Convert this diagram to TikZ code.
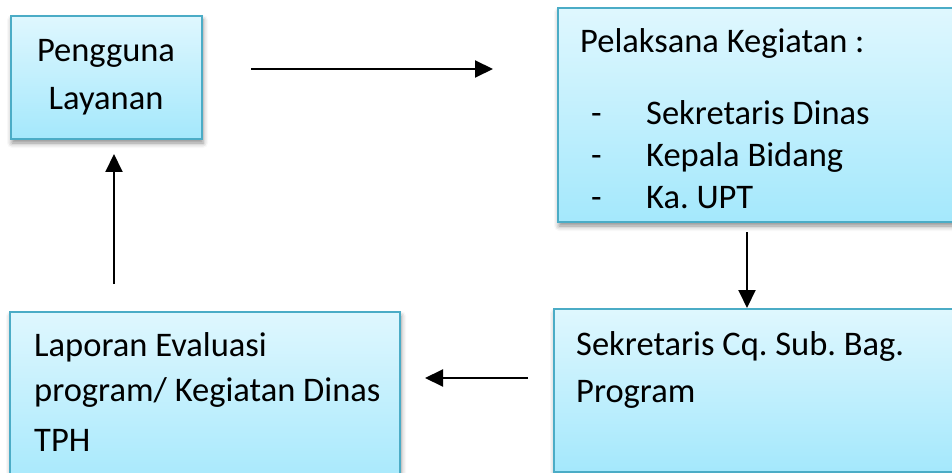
\documentclass[tikz,border=0pt]{standalone}
\usepackage{fontspec}
\setmainfont{Carlito}
\usetikzlibrary{arrows.meta,shadows,shadows.blur}
\definecolor{boxtop}{HTML}{DFF7FE}
\definecolor{boxbot}{HTML}{A4E8FC}
\definecolor{boxline}{HTML}{4BACC6}
\frenchspacing
\tikzset{
  flowbox/.style={rectangle, draw=boxline, line width=2pt, top color=boxtop, bottom color=boxbot,
    inner sep=0pt, blur shadow={shadow xshift=1pt, shadow yshift=-4pt, shadow blur radius=5pt, shadow opacity=45}},
  txt/.style={inner sep=0pt, font=\fontsize{34.5}{40}\selectfont, text=black},
  arr/.style={line width=2pt, -{Triangle[length=18pt,width=17pt]}}
}
\begin{document}
\begin{tikzpicture}[x=1pt,y=-1pt]
\useasboundingbox (0,0) rectangle (952,473);
% boxes
\node[flowbox, minimum width=191pt, minimum height=123pt] (b1) at (106.5,77.5) {};
\node[flowbox, minimum width=402pt, minimum height=214pt] (b2) at (759,115) {};
\node[flowbox, minimum width=390pt, minimum height=180pt] (b3) at (205,402) {};
\node[flowbox, minimum width=406pt, minimum height=163pt] (b4) at (757,390.5) {};
% texts
\node[txt, anchor=base] (t1a) at (106,62) {Pengguna};
\node[txt, anchor=base] (t1b) at (106,109.5) {Layanan};
\node[txt, anchor=base west] (t2a) at (580,53) {Pelaksana Kegiatan :};
\node[txt, anchor=base west] (d1) at (591,125) {-};
\node[txt, anchor=base west] (d2) at (591,167) {-};
\node[txt, anchor=base west] (d3) at (591,208) {-};
\node[txt, anchor=base west] (t2b) at (646,125) {Sekretaris Dinas};
\node[txt, anchor=base west] (t2c) at (646,167) {Kepala Bidang};
\node[txt, anchor=base west] (t2d) at (646,208) {Ka. UPT};
\node[txt, anchor=base west] (t3a) at (34,356) {Laporan Evaluasi};
\node[txt, anchor=base west] (t3b) at (34,401.5) {program/ Kegiatan Dinas};
\node[txt, anchor=base west] (t3c) at (34,451.5) {TPH};
\node[txt, anchor=base west] (t4a) at (576,355) {Sekretaris Cq. Sub. Bag.};
\node[txt, anchor=base west] (t4b) at (576,402.5) {Program};
% arrow end points
\coordinate (a1s) at (251,69);
\coordinate (a1e) at (493,69);
\coordinate (a2s) at (747,232);
\coordinate (a2e) at (747,308);
\coordinate (a3s) at (528,378);
\coordinate (a3e) at (425,378);
\coordinate (a4s) at (114,284);
\coordinate (a4e) at (114,154);
\draw[arr] (a1s) -- (a1e);
\draw[arr] (a2s) -- (a2e);
\draw[arr] (a3s) -- (a3e);
\draw[arr] (a4s) -- (a4e);
\end{tikzpicture}
\end{document}
